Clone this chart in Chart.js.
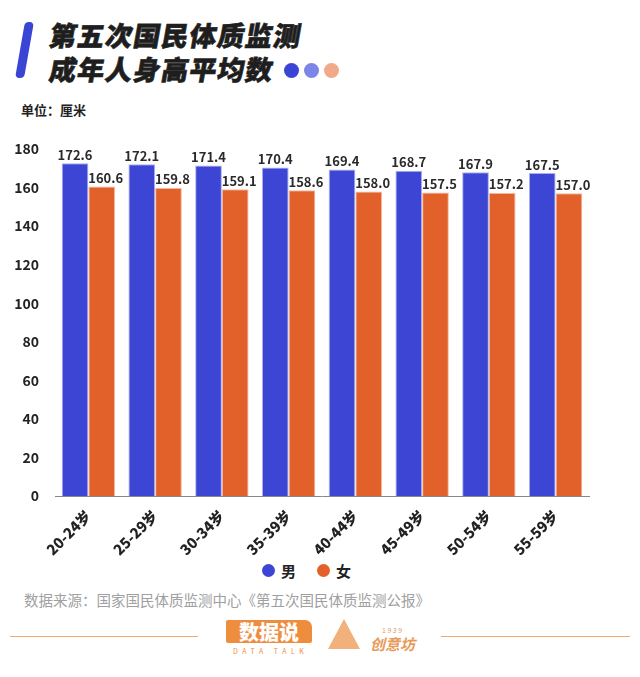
<!DOCTYPE html>
<html>
<head>
<meta charset="utf-8">
<script src="https://cdn.jsdelivr.net/npm/chart.js@4"></script>
<style>
  html, body { margin:0; padding:0; background:#fff; }
  body { width:640px; height:677px; position:relative; overflow:hidden; font-family:"Noto Sans CJK SC", sans-serif; }
  .bar { position:absolute; left:20px; top:22px; width:9px; height:56px; background:#3a45d6; border-radius:4px; transform:skewX(-10deg); }
  .title { position:absolute; left:50px; font-size:27px; font-weight:900; color:#1e1e1e; transform:skewX(-10deg); letter-spacing:1px; line-height:30px; -webkit-text-stroke:0.6px #1e1e1e; }
  .dot { position:absolute; width:15px; height:15px; border-radius:50%; top:63px; }
  .unit { position:absolute; left:21px; top:100px; font-size:13px; font-weight:700; color:#222; }
  #wrap { position:absolute; left:0; top:130px; width:640px; height:430px; }
  .legend { position:absolute; top:560px; font-size:15px; font-weight:700; color:#222; }
  .ldot { position:absolute; width:13px; height:13px; border-radius:50%; top:564px; }
  .src { position:absolute; left:24px; top:589px; font-size:14.5px; color:#a0a0a0; }
  .line { position:absolute; top:636px; height:1px; background:#f0a878; }
  .logo1 { position:absolute; left:226px; top:620px; width:86px; height:23px; background:#ef8d3f; color:#fff; font-weight:900; font-size:20px; text-align:center; line-height:23px; border-radius:2px 7px 2px 2px; }
  .logo1s { position:absolute; left:233px; top:646px; font-size:7px; letter-spacing:4.5px; color:#ef8d3f; }
  .logo2 { position:absolute; left:370px; top:633px; font-size:15px; color:#e89a5a; font-weight:700; font-style:italic; }
  .logo2y { position:absolute; left:382px; top:625px; font-size:7px; color:#e89a5a; letter-spacing:1.5px; }
  .mtn { position:absolute; left:328px; top:619px; width:0; height:0; border-left:16px solid transparent; border-right:16px solid transparent; border-bottom:30px solid #f2b07a; }
</style>
</head>
<body>
<div class="bar"></div>
<div class="title" style="top:20px">第五次国民体质监测</div>
<div class="title" style="top:54px">成年人身高平均数</div>
<div class="dot" style="left:284px;background:#3a45d6"></div>
<div class="dot" style="left:304px;background:#7b86e6"></div>
<div class="dot" style="left:324px;background:#f2a98a"></div>
<div class="unit">单位：厘米</div>
<div id="wrap"><canvas id="c" width="640" height="430"></canvas></div>
<div class="ldot" style="left:262px;background:#3c45d4"></div>
<div class="legend" style="left:281px">男</div>
<div class="ldot" style="left:317px;background:#e2612a"></div>
<div class="legend" style="left:336px">女</div>
<div class="src">数据来源：国家国民体质监测中心《第五次国民体质监测公报》</div>
<div class="line" style="left:10px;width:188px"></div>
<div class="line" style="left:441px;width:189px"></div>
<div class="logo1">数据说</div>
<div class="logo1s">DATA TALK</div>
<div class="mtn"></div>
<div class="logo2y">1939</div>
<div class="logo2">创意坊</div>
<script>
const categories = ["20-24岁","25-29岁","30-34岁","35-39岁","40-44岁","45-49岁","50-54岁","55-59岁"];
const male = [172.6,172.1,171.4,170.4,169.4,168.7,167.9,167.5];
const female = [160.6,159.8,159.1,158.6,158.0,157.5,157.2,157.0];
const seriesNames = ["男","女"];
const yTicks = [0,20,40,60,80,100,120,140,160,180];

const labelPlugin = {
  id:'vlabels',
  afterDatasetsDraw(chart){
    const ctx = chart.ctx;
    ctx.save();
    ctx.font = '700 13px "Noto Sans CJK SC"';
    ctx.fillStyle = '#2a2a2a';
    ctx.textAlign = 'center';
    ctx.textBaseline = 'bottom';
    chart.data.datasets.forEach((ds,i)=>{
      chart.getDatasetMeta(i).data.forEach((bar,j)=>{
        const dx = i===1 ? 4 : 0;
        ctx.fillText(ds.data[j].toFixed(1), bar.x+dx, bar.y-2);
      });
    });
    ctx.restore();
  }
};

new Chart(document.getElementById('c'), {
  type:'bar',
  data:{
    labels:categories,
    datasets:[
      {label:seriesNames[0], data:male, backgroundColor:'#3c45d4', borderColor:'#aab0ee', borderWidth:1},
      {label:seriesNames[1], data:female, backgroundColor:'#e2612a', borderColor:'#f3b89c', borderWidth:1}
    ]
  },
  options:{
    responsive:false, animation:false,
    layout:{padding:{top:19,right:51,bottom:0,left:0}},
    plugins:{legend:{display:false}, tooltip:{enabled:false}},
    datasets:{bar:{categoryPercentage:0.8, barPercentage:1}},
    scales:{
      x:{
        grid:{display:false, drawTicks:true, tickLength:6, color:'#888'},
        border:{display:true, color:'#888'},
        ticks:{color:'#222', font:{family:'"Noto Sans CJK SC"', weight:'900', size:14.5}, maxRotation:45, minRotation:45, padding:5},
        afterFit(s){ s.height = 64; }
      },
      y:{
        min:0, max:180,
        afterBuildTicks(s){ s.ticks = yTicks.map(v=>({value:v})); },
        afterFit(s){ s.width = 55; },
        grid:{display:false},
        border:{display:false},
        ticks:{color:'#222', font:{family:'"Noto Sans CJK SC"', weight:'700', size:14}, padding:8}
      }
    }
  },
  plugins:[labelPlugin]
});
</script>
</body>
</html>
